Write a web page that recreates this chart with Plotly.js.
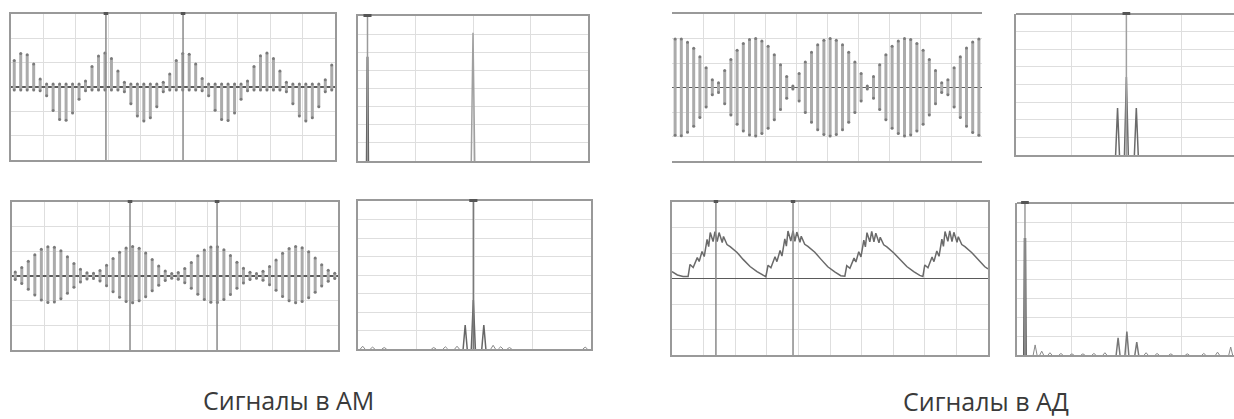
<!DOCTYPE html>
<html><head><meta charset="utf-8">
<script src="https://cdn.plot.ly/plotly-3.0.1.min.js"></script>
<style>html,body{margin:0;padding:0;background:#fff;}#chart{width:1234px;height:419px;}</style>
</head><body><div id="chart"></div>
<script>
// ---------- DATA ----------
// sample times (divisions) of carrier stems in the time-domain panels
const stemTimes = [0.1,0.3,0.5,0.7,0.9,1.1,1.3,1.5,1.7,1.9,2.1,2.3,2.5,2.7,2.9,3.1,3.3,3.5,3.7,3.9,4.1,4.3,4.5,4.7,4.9,5.1,5.3,5.5,5.7,5.9,6.1,6.3,6.5,6.7,6.9,7.1,7.3,7.5,7.7,7.9,8.1,8.3,8.5,8.7,8.9,9.1,9.3,9.5,9.7,9.9];

// Panel 1: AM, top time signal (upper / lower end of each stem, divisions)
const amTopHi = [1.09,1.38,1.33,0.95,0.33,0.12,0.12,0.12,0.12,0.12,0.12,0.25,0.84,1.27,1.40,1.17,0.66,0.2,0.12,0.12,0.12,0.12,0.12,0.2,0.53,1.09,1.38,1.35,0.95,0.35,0.12,0.12,0.12,0.12,0.12,0.12,0.25,0.84,1.28,1.40,1.17,0.66,0.2,0.12,0.12,0.12,0.12,0.12,0.3,0.9];
const amTopLo = [-0.12,-0.12,-0.12,-0.12,-0.15,-0.36,-0.97,-1.34,-1.37,-1.07,-0.50,-0.15,-0.12,-0.12,-0.12,-0.12,-0.12,-0.2,-0.69,-1.19,-1.40,-1.26,-0.81,-0.2,-0.12,-0.12,-0.12,-0.12,-0.12,-0.15,-0.36,-0.96,-1.34,-1.38,-1.07,-0.50,-0.15,-0.12,-0.12,-0.12,-0.12,-0.12,-0.2,-0.69,-1.19,-1.40,-1.26,-0.81,-0.2,-0.12];
const amTopCursors = [2.93, 5.31];

// Panel 2: AM, top spectrum (spectral lines)
const amTopDcFreq = [0.165];
const amTopDcAmp = [5.75];
const amTopFreq = [2.0];
const amTopAmp = [7.07];
const amTopSpecCursor = [0.165];

// Panel 3: AD, top time signal
const adTopHi = [1.98,1.98,1.85,1.60,1.25,0.81,0.32,0.19,0.69,1.14,1.52,1.80,1.96,2.00,1.90,1.68,1.34,0.93,0.45,0.06,0.57,1.04,1.44,1.74,1.93,2.00,1.93,1.74,1.44,1.04,0.57,0.06,0.45,0.93,1.34,1.68,1.90,2.00,1.96,1.80,1.52,1.14,0.69,0.19,0.32,0.81,1.25,1.61,1.86,1.98];
const adTopLo = [-1.95,-1.97,-1.83,-1.58,-1.22,-0.8,-0.3,-0.2,-0.66,-1.12,-1.5,-1.78,-1.94,-1.98,-1.88,-1.66,-1.32,-0.9,-0.44,-0.06,-0.55,-1.02,-1.42,-1.72,-1.92,-1.98,-1.92,-1.72,-1.42,-1.02,-0.55,-0.06,-0.44,-0.9,-1.32,-1.66,-1.88,-1.98,-1.94,-1.78,-1.5,-1.12,-0.66,-0.2,-0.3,-0.8,-1.22,-1.58,-1.84,-1.95];

// Panel 4: AD, top spectrum
const adTopFreq = [1.84, 2.0, 2.18];
const adTopAmp = [2.67, 4.43, 2.67];
const adTopSpecCursor = [2.0];

// Panel 5: AM, bottom time signal
const amLowHi = [0.16,0.34,0.60,0.86,1.08,1.19,1.17,1.02,0.78,0.51,0.27,0.13,0.11,0.22,0.44,0.71,0.96,1.14,1.20,1.12,0.93,0.67,0.41,0.20,0.10,0.14,0.30,0.55,0.82,1.05,1.18,1.19,1.06,0.83,0.56,0.31,0.15,0.10,0.19,0.39,0.65,0.92,1.11,1.20,1.15,0.98,0.73,0.46,0.23,0.11];
const amLowLo = [-0.14,-0.3,-0.54,-0.77,-0.97,-1.07,-1.05,-0.92,-0.7,-0.46,-0.24,-0.12,-0.1,-0.2,-0.4,-0.64,-0.86,-1.03,-1.08,-1.0,-0.84,-0.6,-0.37,-0.18,-0.09,-0.13,-0.27,-0.5,-0.74,-0.95,-1.06,-1.07,-0.95,-0.75,-0.5,-0.28,-0.14,-0.09,-0.17,-0.35,-0.58,-0.83,-1.0,-1.08,-1.03,-0.88,-0.66,-0.41,-0.21,-0.1];
const amLowCursors = [3.62, 6.29];

// Panel 6: AM, bottom spectrum
const amLowFreq = [1.84, 1.98, 2.16];
const amLowAmp = [1.30, 2.65, 1.30];
const amLowNoiseFreq = [0.08,0.25,0.45,1.3,1.5,1.7,2.32,2.45,2.6,3.9];
const amLowNoiseAmp = [0.15,0.1,0.08,0.08,0.12,0.15,0.2,0.12,0.08,0.1];
const amLowSpecCursor = [1.98];

// Panel 7: AD, bottom time signal (detector output)
const adLowX = [0.00,0.17,0.35,
 0.51,0.57,0.67,0.80,0.86,0.95,1.02,1.11,1.16,1.21,1.30,1.36,1.43,1.49,1.59,1.63,1.74,1.84,2.06,2.25,2.47,2.69,2.88,
 2.97,3.04,3.13,3.26,3.32,3.42,3.48,3.57,3.62,3.67,3.76,3.83,3.89,3.95,4.05,4.09,4.20,4.30,4.52,4.71,4.93,5.15,5.34,
 5.47,5.53,5.63,5.76,5.82,5.91,5.98,6.07,6.12,6.17,6.26,6.32,6.39,6.45,6.55,6.59,6.70,6.80,7.02,7.21,7.43,7.65,7.84,
 7.94,8.00,8.10,8.23,8.29,8.38,8.45,8.54,8.59,8.64,8.73,8.79,8.86,8.92,9.02,9.06,9.17,9.27,9.49,9.68,9.90,10.0];
const adLowY = [0.27,0.14,0.08,
 0.08,0.55,0.43,0.82,0.67,1.06,0.86,1.53,1.25,1.80,1.45,1.84,1.45,1.80,1.41,1.65,1.33,1.25,1.02,0.75,0.47,0.27,0.12,
 0.07,0.52,0.42,0.85,0.66,1.10,0.88,1.55,1.27,1.86,1.47,1.88,1.46,1.82,1.42,1.66,1.34,1.26,1.03,0.76,0.46,0.26,0.11,
 0.09,0.50,0.40,0.80,0.65,1.05,0.85,1.50,1.24,1.80,1.44,1.85,1.44,1.78,1.40,1.62,1.32,1.24,1.00,0.74,0.47,0.27,0.12,
 0.08,0.53,0.42,0.84,0.66,1.08,0.87,1.54,1.26,1.84,1.46,1.87,1.45,1.81,1.42,1.64,1.33,1.25,1.01,0.74,0.46,0.38];
const adLowCursors = [1.39, 3.83];

// Panel 8: AD, bottom spectrum
const adLowDcFreq = [0.145];
const adLowDcAmp = [6.16];
const adLowFreq = [1.84, 2.0, 2.18];
const adLowAmp = [0.9, 1.23, 0.68];
const adLowNoiseFreq = [0.33,0.45,0.6,0.8,1.0,1.2,1.4,1.6,2.35,2.55,2.8,3.1,3.4,3.65,3.89];
const adLowNoiseAmp = [0.53,0.2,0.12,0.08,0.06,0.06,0.08,0.12,0.12,0.08,0.06,0.06,0.08,0.15,0.42];
const adLowSpecCursor = [0.145];

const captions = ['Сигналы в АМ', 'Сигналы в АД'];

// ---------- LAYOUT ----------
const W = 1234, H = 419;
const panels = [
  {x0:11,  x1:335,  y0:14,  y1:160, kind:'time'},
  {x0:358, x1:588,  y0:16,  y1:161, kind:'spec', xr:[0,4]},
  {x0:672, x1:982,  y0:14,  y1:161, kind:'time', noSides:true},
  {x0:1016,x1:1234, y0:14,  y1:155, kind:'spec', xr:[0,3.95], open:true},
  {x0:12,  x1:338,  y0:202, y1:350, kind:'time'},
  {x0:358, x1:591,  y0:201, y1:349, kind:'spec', xr:[0,4]},
  {x0:672, x1:988,  y0:202, y1:355, kind:'time'},
  {x0:1017,x1:1234, y0:203, y1:355, kind:'spec', xr:[0,3.95], open:true}
];
const gridC = '#dedede', borderC = '#999999';
const layout = {width:W, height:H, margin:{l:0,r:0,t:0,b:0}, paper_bgcolor:'#fff', plot_bgcolor:'#fff', showlegend:false, shapes:[], annotations:[]};
panels.forEach((p,i)=>{
  const n = i===0 ? '' : String(i+1);
  const xd = [p.x0/W, p.x1/W], yd = [1-p.y1/H, 1-p.y0/H];
  const time = p.kind==='time';
  layout['xaxis'+n] = {domain:xd, anchor:'y'+n, range: time?[0,10]:p.xr, dtick:1, tick0:0,
    showgrid:true, gridcolor:gridC, gridwidth:1, zeroline:false, showticklabels:false, ticks:'',
    showline:true, linecolor:borderC, linewidth:2, mirror: p.open ? false : true, fixedrange:true};
  layout['yaxis'+n] = {domain:yd, anchor:'x'+n, range: time?[-3,3]:[0,8], dtick:1, tick0:0,
    showgrid:true, gridcolor:gridC, gridwidth:1, showticklabels:false, ticks:'',
    zeroline: time, zerolinecolor:'#5a5a5a', zerolinewidth:1.5,
    showline: !p.noSides, linecolor:borderC, linewidth:2, mirror: (p.open||p.noSides) ? false : true, fixedrange:true};
  if (p.open) {
    layout.shapes.push({type:'line', xref:'paper', yref:'paper', x0:p.x0/W, x1:1, y0:yd[1], y1:yd[1], line:{color:borderC,width:2}});
  }
});

// ---------- TRACES ----------
const traces = [];
function ax(i){ return i===0 ? ['x','y'] : ['x'+(i+1),'y'+(i+1)]; }
function stemTrace(i, xs, lo, hi, color, width){
  const x=[], y=[];
  xs.forEach((v,k)=>{ x.push(v,v,null); y.push(lo[k],hi[k],null); });
  const [xa,ya]=ax(i);
  traces.push({type:'scatter', mode:'lines', x, y, xaxis:xa, yaxis:ya, line:{color, width}, hoverinfo:'skip'});
  const tx=[], ty=[];
  xs.forEach((v,k)=>{ tx.push(v,v); ty.push(lo[k],hi[k]); });
  traces.push({type:'scatter', mode:'markers', x:tx, y:ty, xaxis:xa, yaxis:ya, marker:{color:'#7a7a7a', size:3}, hoverinfo:'skip'});
}
function spikeTrace(i, fr, amp, hw, color, width){
  const x=[], y=[];
  fr.forEach((f,k)=>{ x.push(f-hw, f, f+hw, null); y.push(0, amp[k], 0, null); });
  const [xa,ya]=ax(i);
  traces.push({type:'scatter', mode:'lines', x, y, xaxis:xa, yaxis:ya, line:{color, width}, hoverinfo:'skip'});
}
function cursorShapes(i, xs, p, color){
  const [xa]=ax(i);
  xs.forEach(v=>{
    layout.shapes.push({type:'line', xref:xa, yref:'paper', x0:v, x1:v, y0:1-p.y1/H, y1:1-p.y0/H, line:{color, width:1.5}});
    layout.shapes.push({type:'rect', xref:xa, yref:'paper', x0:v-0.07, x1:v+0.07, y0:1-(p.y0+1)/H, y1:1-(p.y0-2)/H, line:{width:0}, fillcolor:'#555'});
  });
}

// P1
stemTrace(0, stemTimes, amTopLo, amTopHi, '#ababab', 3);
cursorShapes(0, amTopCursors, panels[0], '#8a8a8a');
// P2
cursorShapes(1, amTopSpecCursor, panels[1], '#9a9a9a');
spikeTrace(1, amTopDcFreq, amTopDcAmp, 0.012, '#555', 2);
spikeTrace(1, amTopFreq, amTopAmp, 0.03, '#a0a0a0', 1.5);
// P3
stemTrace(2, stemTimes, adTopLo, adTopHi, '#ababab', 3);
// P4
cursorShapes(3, adTopSpecCursor, panels[3], '#a0a0a0');
spikeTrace(3, adTopFreq, adTopAmp, 0.035, '#6a6a6a', 1.5);
// P5
stemTrace(4, stemTimes, amLowLo, amLowHi, '#ababab', 3);
cursorShapes(4, amLowCursors, panels[4], '#8a8a8a');
// P6
cursorShapes(5, amLowSpecCursor, panels[5], '#7a7a7a');
spikeTrace(5, amLowFreq, amLowAmp, 0.035, '#666', 1.5);
spikeTrace(5, amLowNoiseFreq, amLowNoiseAmp, 0.04, '#888', 1);
// P7
(function(){
  const [xa,ya]=ax(6);
  traces.push({type:'scatter', mode:'lines', x:adLowX, y:adLowY, xaxis:xa, yaxis:ya, line:{color:'#6a6a6a', width:1.5}, hoverinfo:'skip'});
})();
cursorShapes(6, adLowCursors, panels[6], '#8a8a8a');
// P8
cursorShapes(7, adLowSpecCursor, panels[7], '#9a9a9a');
spikeTrace(7, adLowDcFreq, adLowDcAmp, 0.012, '#555', 2.5);
spikeTrace(7, adLowFreq, adLowAmp, 0.035, '#777', 1.5);
spikeTrace(7, adLowNoiseFreq, adLowNoiseAmp, 0.035, '#888', 1);

// captions
layout.annotations.push({xref:'paper', yref:'paper', x:288/W, y:1-400/H, text:captions[0], showarrow:false, xanchor:'center', yanchor:'middle', font:{family:'Open Sans', size:25, color:'#3a3a3a'}});
layout.annotations.push({xref:'paper', yref:'paper', x:986/W, y:1-401/H, text:captions[1], showarrow:false, xanchor:'center', yanchor:'middle', font:{family:'Open Sans', size:25, color:'#3a3a3a'}});

Plotly.newPlot('chart', traces, layout, {staticPlot:true, displayModeBar:false});
</script>
</body></html>
